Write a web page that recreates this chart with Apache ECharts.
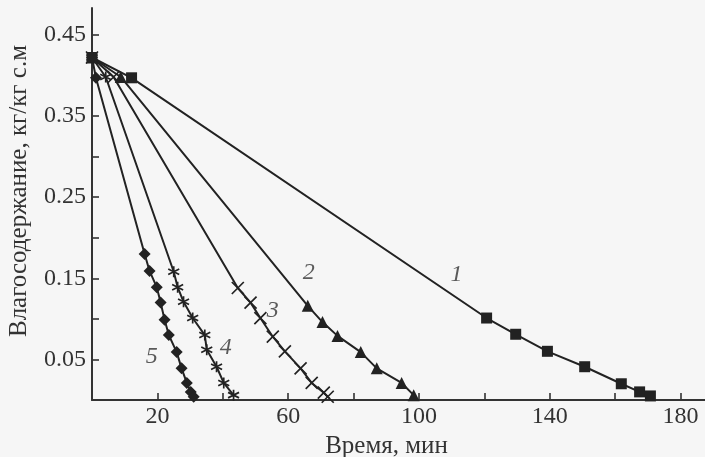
<!DOCTYPE html>
<html>
<head>
<meta charset="utf-8">
<script src="https://cdn.jsdelivr.net/npm/echarts@6/dist/echarts.min.js"></script>
<style>
html,body{margin:0;padding:0;background:#f6f6f6;}
#chart{width:705px;height:457px;}
</style>
</head>
<body>
<div id="chart"></div>
<script>
// Curve 1 (squares)
const curve1X = [0, 12.1, 120.7, 129.6, 139.3, 150.7, 161.9, 167.5, 170.8];
const curve1Y = [0.422, 0.397, 0.101, 0.081, 0.060, 0.041, 0.020, 0.010, 0.005];
// Curve 2 (triangles)
const curve2X = [0, 8.8, 66.0, 70.5, 75.1, 82.2, 87.1, 94.7, 98.4];
const curve2Y = [0.422, 0.398, 0.116, 0.096, 0.079, 0.059, 0.039, 0.021, 0.006];
// Curve 3 (crosses)
const curve3X = [0, 6.6, 44.6, 48.5, 51.5, 55.3, 59.0, 63.8, 67.2, 70.9, 72.1];
const curve3Y = [0.422, 0.398, 0.138, 0.120, 0.101, 0.078, 0.060, 0.039, 0.021, 0.009, 0.004];
// Curve 4 (asterisks)
const curve4X = [0, 4.2, 25.0, 26.2, 28.0, 30.8, 34.5, 35.1, 38.1, 40.3, 43.3];
const curve4Y = [0.422, 0.398, 0.158, 0.139, 0.121, 0.101, 0.080, 0.062, 0.041, 0.021, 0.006];
// Curve 5 (diamonds)
const curve5X = [0, 1.2, 16.1, 17.6, 19.8, 21.0, 22.2, 23.5, 25.9, 27.4, 29.0, 30.2, 31.1];
const curve5Y = [0.422, 0.397, 0.180, 0.159, 0.139, 0.120, 0.099, 0.080, 0.059, 0.039, 0.021, 0.010, 0.004];

// Curve number labels: [text, x, y]
const curveLabels = [
  ['1', 111.5, 0.154],
  ['2', 66.3, 0.157],
  ['3', 55.3, 0.110],
  ['4', 40.9, 0.064],
  ['5', 18.3, 0.053]
];

const xTicks = [20, 40, 60, 80, 100, 120, 140, 160, 180];
const xTickLabels = [20, 60, 100, 140, 180];
const yTicks = [0.05, 0.10, 0.15, 0.20, 0.25, 0.30, 0.35, 0.40, 0.45];
const yTickLabels = [0.05, 0.15, 0.25, 0.35, 0.45];

const xTitle = 'Время, мин';
const yTitle = 'Влагосодержание, кг/кг с.м';

const ink = '#222';
const font = 'Liberation Serif';

function zip(xs, ys) { return xs.map((x, i) => [x, ys[i]]); }

function lineSeries(xs, ys, symbol, size, stroked, z) {
  return {
    type: 'line',
    data: zip(xs, ys),
    symbol: symbol,
    symbolSize: size,
    showAllSymbol: true,
    z: z,
    lineStyle: { color: ink, width: 2 },
    itemStyle: stroked
      ? { color: 'rgba(0,0,0,0)', borderColor: ink, borderWidth: 1.7 }
      : { color: ink, borderColor: ink, borderWidth: 0 },
    emphasis: { disabled: true },
    animation: false
  };
}

const chart = echarts.init(document.getElementById('chart'), null, { renderer: 'canvas' });
chart.setOption({
  backgroundColor: '#f6f6f6',
  animation: false,
  grid: { left: 92, right: 0, top: 8, bottom: 57, outerBoundsMode: 'none', containLabel: false },
  xAxis: {
    type: 'value', min: 0, max: 187.5,
    name: xTitle, nameLocation: 'middle', nameGap: 32,
    nameTextStyle: { fontFamily: font, fontSize: 25, color: '#333', padding: [0, 24, 0, 0] },
    axisLine: { show: true, lineStyle: { color: '#333', width: 2 } },
    axisTick: { show: true, inside: true, length: 7, lineStyle: { color: '#333', width: 1.6 }, customValues: xTicks },
    axisLabel: { fontFamily: font, fontSize: 24, color: '#333', margin: 5, customValues: xTickLabels },
    splitLine: { show: false }
  },
  yAxis: {
    type: 'value', min: 0, max: 0.483,
    name: yTitle, nameLocation: 'middle', nameGap: 60, nameRotate: 90,
    nameTextStyle: { fontFamily: font, fontSize: 25, color: '#333', padding: [0, 0, 0, 26] },
    axisLine: { show: true, lineStyle: { color: '#333', width: 2 } },
    axisTick: { show: true, inside: true, length: 7, lineStyle: { color: '#333', width: 1.6 }, customValues: yTicks },
    axisLabel: { fontFamily: font, fontSize: 24, color: '#333', margin: 6, customValues: yTickLabels,
      formatter: v => v.toFixed(2) },
    splitLine: { show: false }
  },
  series: [
    lineSeries(curve5X, curve5Y, 'diamond', 12, false, 3),
    lineSeries(curve4X, curve4Y, 'path://M5,0L5,10M0.7,2.5L9.3,7.5M0.7,7.5L9.3,2.5', 11, true, 3),
    lineSeries(curve3X, curve3Y, 'path://M0,0L10,10M10,0L0,10', 12, true, 3),
    lineSeries(curve2X, curve2Y, 'triangle', 12, false, 3),
    lineSeries(curve1X, curve1Y, 'rect', 11, false, 4),
    {
      type: 'scatter',
      data: curveLabels.map(d => ({ value: [d[1], d[2]], name: d[0] })),
      symbolSize: 0,
      z: 5,
      label: {
        show: true, position: 'inside', formatter: p => p.name,
        fontFamily: font, fontStyle: 'italic', fontSize: 24, color: '#333'
      },
      emphasis: { disabled: true },
      animation: false
    }
  ]
});
</script>
</body>
</html>
